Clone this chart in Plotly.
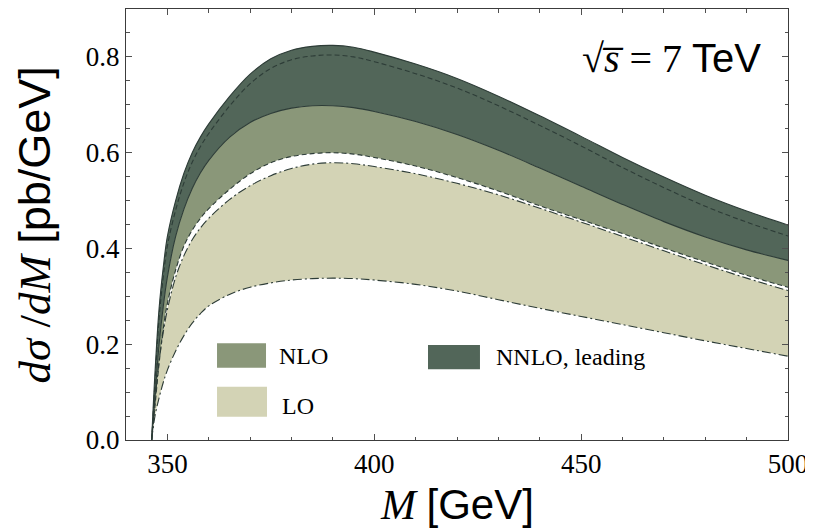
import plotly.graph_objects as go

# Invariant mass grid (GeV)
M = [346.2, 347, 348, 349, 350, 352, 354, 356, 358, 360, 365, 370, 375, 380, 385,
     390, 395, 400, 410, 420, 430, 440, 450, 460, 470, 480, 490, 500]

# NNLO, leading band (upper edge, central dashed)
nnlo_up = [0, 0.14, 0.275, 0.36, 0.425, 0.50, 0.557, 0.600, 0.633, 0.660, 0.717, 0.764, 0.796, 0.814, 0.822,
           0.824, 0.820, 0.810, 0.785, 0.755, 0.718, 0.677, 0.634, 0.590, 0.549, 0.511, 0.478, 0.449]
nnlo_mid = [0, 0.12, 0.255, 0.34, 0.405, 0.48, 0.537, 0.580, 0.613, 0.640, 0.697, 0.744, 0.776, 0.794, 0.802,
            0.804, 0.800, 0.790, 0.765, 0.735, 0.698, 0.657, 0.614, 0.569, 0.527, 0.488, 0.455, 0.426]
# NLO band
nlo_up = [0, 0.09, 0.20, 0.278, 0.34, 0.425, 0.482, 0.525, 0.558, 0.584, 0.632, 0.663, 0.682, 0.693, 0.698,
          0.698, 0.694, 0.686, 0.665, 0.638, 0.605, 0.568, 0.530, 0.492, 0.456, 0.424, 0.397, 0.375]
nlo_lo = [0, 0.07, 0.16, 0.232, 0.285, 0.355, 0.405, 0.438, 0.463, 0.483, 0.523, 0.556, 0.579, 0.592, 0.598,
          0.600, 0.597, 0.590, 0.572, 0.548, 0.520, 0.489, 0.460, 0.431, 0.401, 0.372, 0.344, 0.319]
# LO band
lo_up = [0, 0.08, 0.165, 0.225, 0.272, 0.34, 0.385, 0.418, 0.443, 0.463, 0.502, 0.531, 0.552, 0.567, 0.576,
         0.579, 0.577, 0.571, 0.556, 0.536, 0.512, 0.484, 0.455, 0.425, 0.395, 0.366, 0.338, 0.312]
lo_lo = [0, 0.05, 0.088, 0.12, 0.146, 0.186, 0.218, 0.244, 0.264, 0.280, 0.304, 0.319, 0.328, 0.334, 0.337,
         0.338, 0.337, 0.334, 0.325, 0.311, 0.293, 0.275, 0.258, 0.241, 0.224, 0.207, 0.191, 0.175]

x_ticks = [350, 400, 450, 500]
y_ticks = [0.0, 0.2, 0.4, 0.6, 0.8]
y_tick_labels = ["0.0", "0.2", "0.4", "0.6", "0.8"]

C_NNLO = "rgb(82,102,89)"
C_NLO = "rgb(138,151,121)"
C_LO = "rgb(211,211,181)"
C_LINE = "rgb(45,60,55)"

fig = go.Figure()

def band(lo, hi, color):
    fig.add_trace(go.Scatter(x=M, y=lo, mode="lines", line=dict(width=0, shape="spline"),
                             hoverinfo="skip", showlegend=False))
    fig.add_trace(go.Scatter(x=M, y=hi, mode="lines", line=dict(width=0, shape="spline"),
                             fill="tonexty", fillcolor=color, hoverinfo="skip", showlegend=False))

band(lo_lo, lo_up, C_LO)
band(nlo_lo, nlo_up, C_NLO)
band(nlo_up, nnlo_up, C_NNLO)

def line(y, dash, w=1.1):
    fig.add_trace(go.Scatter(x=M, y=y, mode="lines",
                             line=dict(color=C_LINE, width=w, dash=dash, shape="spline"),
                             hoverinfo="skip", showlegend=False))

line(lo_lo, "9px,3px,2px,3px")
line(lo_up, "9px,3px,2px,3px")
line(nlo_lo, "5px,3px")
line(nlo_up, "solid")
line(nnlo_mid, "5px,3px")
line(nnlo_up, "solid")

# custom legend
serif = "Liberation Serif, Times New Roman, serif"
legend_items = [
    ("NLO", C_NLO, 0.1375, 0.2115, 0.1678, 0.2244, 0.2280, 0.1956),
    ("LO", C_LO, 0.1375, 0.213, 0.0541, 0.1237, 0.2330, 0.0789),
    ("NNLO, leading", C_NNLO, 0.4562, 0.5347, 0.164, 0.2204, 0.5560, 0.1926),
]
for name, col, x0, x1, y0, y1, tx, ty in legend_items:
    fig.add_shape(type="rect", xref="paper", yref="paper", x0=x0, x1=x1, y0=y0, y1=y1,
                  fillcolor=col, line=dict(width=0), layer="above")
    fig.add_annotation(xref="paper", yref="paper", x=tx, y=ty, text=name, showarrow=False,
                       xanchor="left", yanchor="middle",
                       font=dict(family=serif, size=24, color="black"))

fig.add_annotation(xref="paper", yref="paper", x=0.962, y=0.886,
                   text="√<i>s̅</i> = 7 <span style='font-family:Liberation Sans'>TeV</span>",
                   showarrow=False, xanchor="right", yanchor="middle",
                   font=dict(family=serif, size=40, color="black"))

# axis titles
fig.add_annotation(xref="paper", yref="paper", x=0.50, y=-0.150,
                   text="<i>M</i> <span style='font-family:Liberation Sans'>[GeV]</span>",
                   showarrow=False, xanchor="center", yanchor="middle",
                   font=dict(family=serif, size=42, color="black"))
fig.add_annotation(xref="paper", yref="paper", x=-0.138, y=0.499, textangle=-90,
                   text="<i>dσ</i> /<i>dM</i> <span style='font-family:Liberation Sans'>[pb/GeV]</span>",
                   showarrow=False, xanchor="center", yanchor="middle",
                   font=dict(family=serif, size=45, color="black"))

axis_common = dict(showgrid=False, zeroline=False, showline=True, linecolor="rgb(60,60,60)",
                   linewidth=1, mirror="ticks", ticks="inside", ticklen=6, tickwidth=1,
                   tickcolor="rgb(80,80,80)", automargin=False,
                   tickfont=dict(family=serif, size=27, color="black"))

# the page body adds an 8px offset, so the figure is 8px smaller and the margins compensate
fig.update_layout(
    width=805, height=521,
    margin=dict(l=118, r=25, t=1, b=89),
    plot_bgcolor="white", paper_bgcolor="white",
    xaxis=dict(range=[340, 500], tickvals=x_ticks, ticktext=[str(v) for v in x_ticks],
               minor=dict(dtick=10, tick0=340, ticks="inside", ticklen=3.5, tickcolor="rgb(80,80,80)"),
               **axis_common),
    yaxis=dict(range=[0, 0.9], tickvals=y_ticks, ticktext=y_tick_labels,
               minor=dict(dtick=0.05, tick0=0, ticks="inside", ticklen=3.5, tickcolor="rgb(80,80,80)"),
               **axis_common),
)

fig.write_html("out.html")
